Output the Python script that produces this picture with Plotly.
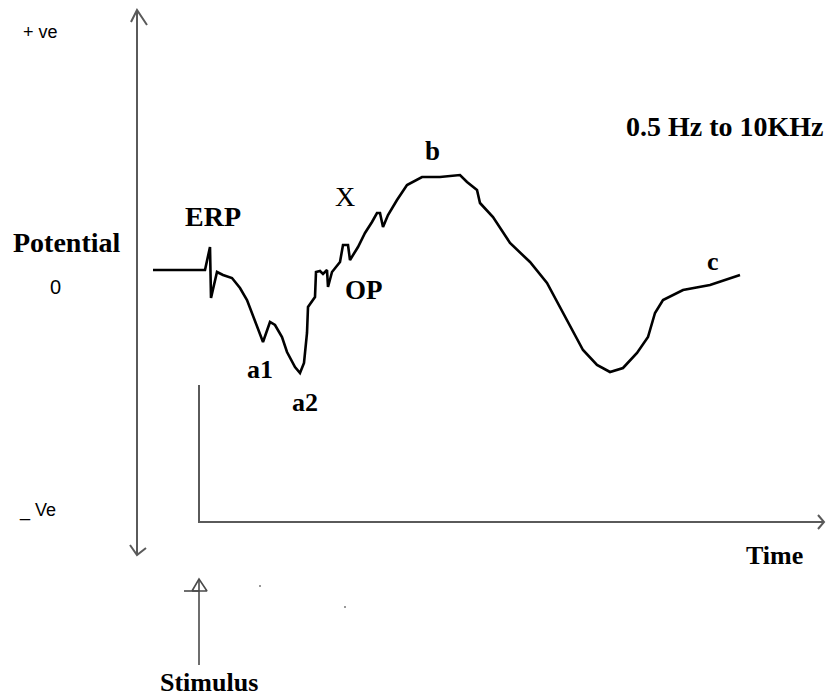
import plotly.graph_objects as go

# Waveform (time, potential) in drawing units (y grows downward)
wave_t = [153, 205, 210, 211, 217, 223, 232, 240, 247, 255, 263, 270, 275, 282, 287, 295, 300,
          304, 307, 308, 315, 316, 320, 323, 327, 328, 332, 340, 343, 348, 350, 358, 365, 372,
          377, 380, 383, 388, 397, 407, 422, 440, 460, 467, 477, 480, 493, 510, 530, 547, 560,
          570, 583, 597, 610, 623, 637, 648, 655, 663, 683, 710, 740]
wave_v = [270, 270, 247, 298, 272, 275, 278, 288, 300, 322, 342, 322, 325, 337, 352, 367, 373,
          363, 333, 307, 297, 272, 271, 274, 270, 287, 272, 262, 245, 245, 260, 247, 233, 222,
          213, 213, 227, 215, 200, 185, 177, 177, 175, 182, 190, 203, 217, 243, 262, 283, 307,
          327, 350, 365, 372, 368, 353, 337, 313, 300, 290, 285, 275]

# Axis / arrow strokes (x list, y list); None breaks segments
axis_x = [137, 137, None, 131, 137, 147, None, 130, 137, 146,
          None, 199, 199, 823, None, 818, 824, 818]
axis_y = [10, 555, None, 22, 10, 25, None, 545, 555, 548,
          None, 385, 522, 522, None, 515, 522, 529]

stim_x = [199, 199, None, 192, 199, 207, 192, None, 184, 199]
stim_y = [665, 579, None, 591, 579, 591, 591, None, 591, 591]

dots_x = [260, 345]
dots_y = [586, 607]

# text, x, y, font kind, size, vertical anchor
labels = [
    ("+ ve", 40, 32, "sans", 18, "middle"),
    ("0", 55, 287, "sans", 20, "middle"),
    ("_ Ve", 37, 510, "sans", 18, "middle"),
    ("Potential", 67, 242, "bold", 28, "middle"),
    ("ERP", 213, 216, "bold", 28, "middle"),
    ("X", 345, 196, "serif", 28, "middle"),
    ("OP", 364, 290, "bold", 27, "middle"),
    ("b", 432, 151, "bold", 27, "middle"),
    ("a1", 260, 369, "bold", 26, "middle"),
    ("a2", 305, 402, "bold", 26, "middle"),
    ("c", 713, 261, "bold", 26, "middle"),
    ("0.5 Hz to 10KHz", 725, 126, "bold", 28, "middle"),
    ("Time", 774, 555, "bold", 26, "middle"),
    ("Stimulus", 209, 698, "bold", 26, "bottom"),
]

fig = go.Figure()
fig.add_trace(go.Scatter(x=axis_x, y=axis_y, mode="lines",
                         line=dict(color="#5a5a5a", width=2), hoverinfo="skip"))
fig.add_trace(go.Scatter(x=stim_x, y=stim_y, mode="lines",
                         line=dict(color="#4a4a4a", width=1.6), hoverinfo="skip"))
fig.add_trace(go.Scatter(x=wave_t, y=wave_v, mode="lines",
                         line=dict(color="black", width=2.6, shape="linear"), hoverinfo="skip"))
fig.add_trace(go.Scatter(x=dots_x, y=dots_y, mode="markers",
                         marker=dict(color="#777", size=2), hoverinfo="skip"))

fonts = {
    "sans": "Liberation Sans, Arial, sans-serif",
    "bold": "Liberation Serif, Times New Roman, serif",
    "serif": "Liberation Serif, Times New Roman, serif",
}
for text, x, y, kind, size, ya in labels:
    t = f"<b>{text}</b>" if kind == "bold" else text
    fig.add_annotation(x=x, y=y, text=t, showarrow=False, xanchor="center", yanchor=ya,
                       borderpad=0,
                       font=dict(family=fonts[kind], size=size, color="black"))

fig.update_layout(
    width=826, height=698, margin=dict(l=0, r=0, t=0, b=0),
    paper_bgcolor="white", plot_bgcolor="white", showlegend=False,
    xaxis=dict(range=[0, 826], visible=False, fixedrange=True),
    yaxis=dict(range=[698, 0], visible=False, fixedrange=True),
)
fig.write_html("out.html", config={"displayModeBar": False})
